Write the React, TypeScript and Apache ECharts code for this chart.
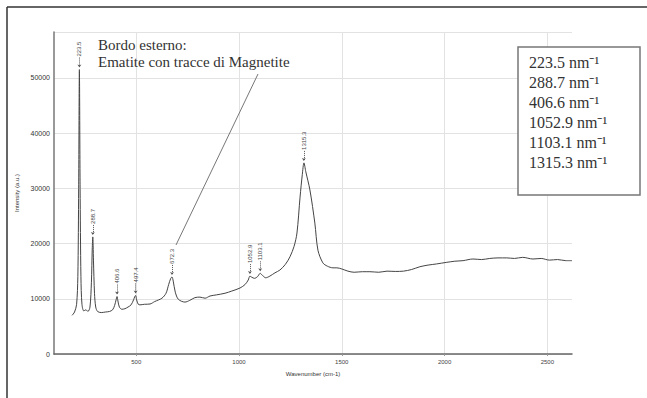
import React, { useEffect, useRef } from "react";
import * as echarts from "echarts";

const wavenumbers = [
  188, 200, 210, 216, 220, 223.5, 227, 231, 236, 245, 255, 265, 275, 282, 286, 288.7, 292, 297, 303, 312,
  330, 350, 370, 385, 395, 402, 406.6, 411, 418, 430, 445, 460, 475, 487, 493, 497, 502, 510, 518, 540,
  567, 590, 625, 645, 658, 668, 674, 680, 690, 705, 737, 760, 785, 810, 835, 859, 890, 932, 965, 1005,
  1030, 1045, 1053, 1062, 1075, 1090, 1103, 1115, 1130, 1150, 1175, 1199, 1225, 1248, 1268, 1282, 1297, 1308, 1316, 1325,
  1345, 1369, 1384, 1408, 1430, 1457, 1476, 1500, 1530, 1560, 1600, 1637, 1680, 1720, 1760, 1800, 1840, 1880, 1920, 1960,
  2011, 2050, 2090, 2138, 2180, 2220, 2260, 2303, 2340, 2380, 2430, 2470, 2510, 2550, 2590, 2620,
];
const intensities = [
  7000, 7600, 9000, 14000, 30000, 51500, 30000, 14000, 9000, 7800, 8000, 7700, 8500, 13000, 19000, 21200, 17000, 11000, 8500, 7700,
  7500, 7600, 7700, 8000, 8800, 9800, 10400, 9600, 8500, 8100, 8200, 8500, 8900, 9800, 10400, 10600, 9800, 9000, 8900, 9000,
  9050, 9500, 10100, 11000, 12600, 13700, 13950, 13200, 11200, 9900, 9400, 9700, 10200, 10300, 10100, 10500, 10700, 11000, 11400, 11950,
  12600, 13400, 14100, 13900, 13700, 14000, 14600, 14200, 13800, 14100, 14700, 15200, 16200, 17600, 19500, 21900, 28400, 32500, 34600, 33000,
  29700, 23700, 18800, 16500, 15900, 15600, 15600, 15400, 15000, 14800, 14900, 14900, 14800, 15000, 14950, 15000, 15300, 15800, 16100, 16300,
  16600, 16800, 16900, 17200, 17100, 17300, 17400, 17400, 17300, 17500, 17200, 17300, 17000, 17100, 16900, 16900,
];

const peakPositions = [223.5, 288.7, 406.6, 497, 674, 1052.9, 1103.1, 1315.3];
const peakHeights = [51500, 21200, 10400, 10600, 13950, 14100, 14600, 34600];
const peakLabels = ["223.5", "288.7", "406.6", "497.4", "672.3", "1052.9", "1103.1", "1315.3"];

const xTicks = [500, 1000, 1500, 2000, 2500];
const boxLines = ["223.5", "288.7", "406.6", "1052.9", "1103.1", "1315.3"];
const titleLines = ["Bordo esterno:", "Ematite con tracce di Magnetite"];

export default function App() {
  const ref = useRef<HTMLDivElement>(null);
  useEffect(() => {
    if (!ref.current) return;
    const chart = echarts.init(ref.current, undefined, { renderer: "svg" });
    const data = wavenumbers.map((w, i) => [w, intensities[i]]);
    const unit = 58300 / 322;
    const markLines = peakPositions.map((w, i) => [
      { coord: [w, peakHeights[i] + 12 * unit] },
      { coord: [w, peakHeights[i] + 2 * unit] },
    ]);
    const markPoints = peakPositions.map((w, i) => ({
      coord: [w, peakHeights[i] + 13 * unit],
      name: peakLabels[i],
    }));
    const serif = "Liberation Serif";
    chart.setOption({
      animation: false,
      grid: { left: 54, right: 75, top: 32, bottom: 44 },
      xAxis: {
        type: "value",
        min: 100,
        max: 2620,
        name: "Wavenumber (cm-1)",
        nameLocation: "middle",
        nameGap: 17,
        nameTextStyle: { fontSize: 6, color: "#333", fontFamily: "Liberation Sans" },
        axisLine: { lineStyle: { color: "#666", width: 1.5 } },
        axisTick: { show: true, customValues: xTicks, length: 2, lineStyle: { color: "#999" } },
        axisLabel: {
          customValues: xTicks,
          fontSize: 6,
          color: "#444",
          margin: 5,
          fontFamily: "Liberation Sans",
          formatter: (v: number) => String(v),
        },
        splitLine: { show: true, lineStyle: { color: "#e2e2e2", width: 1 } },
      },
      yAxis: {
        type: "value",
        min: 0,
        max: 58300,
        interval: 10000,
        name: "Intensity (a.u.)",
        nameLocation: "middle",
        nameGap: 29,
        nameRotate: 90,
        nameTextStyle: { fontSize: 6, color: "#333", fontFamily: "Liberation Sans" },
        axisLine: { show: true, lineStyle: { color: "#777", width: 1.5 } },
        axisTick: { show: false },
        axisLabel: {
          fontSize: 7,
          color: "#333",
          margin: 4,
          showMaxLabel: false,
          fontFamily: "Liberation Sans",
          formatter: (v: number) => String(v),
        },
        splitLine: { show: true, lineStyle: { color: "#e2e2e2", width: 1 } },
      },
      series: [
        {
          type: "line",
          data,
          showSymbol: false,
          smooth: 0.3,
          lineStyle: { color: "#444", width: 1 },
          markLine: {
            silent: true,
            symbol: ["none", "arrow"],
            symbolSize: 3,
            label: { show: false },
            lineStyle: { color: "#555", width: 1, type: "dotted" },
            data: markLines,
          },
          markPoint: {
            silent: true,
            symbol: "circle",
            symbolSize: 0,
            label: {
              show: true,
              formatter: (p: any) => p.name,
              position: [0, 0],
              rotate: 90,
              align: "left",
              verticalAlign: "middle",
              fontSize: 6,
              color: "#444",
              fontFamily: "Liberation Sans",
            },
            data: markPoints,
          },
        },
      ],
      graphic: [
        { type: "line", z: 100, shape: { x1: 7, y1: 7, x2: 647, y2: 7 }, style: { stroke: "#333", lineWidth: 1.5 } },
        { type: "line", z: 100, shape: { x1: 7, y1: 7, x2: 7, y2: 398 }, style: { stroke: "#333", lineWidth: 1.5 } },
        {
          type: "text",
          z: 100,
          left: 98,
          top: 36,
          style: { text: titleLines.join("\n"), fontSize: 15, lineHeight: 17, fill: "#333", fontFamily: serif },
        },
        { type: "line", z: 100, shape: { x1: 258, y1: 74, x2: 176, y2: 245 }, style: { stroke: "#777", lineWidth: 1 } },
        {
          type: "rect",
          z: 100,
          shape: { x: 518, y: 47, width: 122, height: 148 },
          style: { fill: "#fff", stroke: "#777", lineWidth: 1.5 },
        },
        {
          type: "text",
          z: 101,
          left: 529,
          top: 52,
          style: {
            text: boxLines.map((v) => `${v} nm⁻¹`).join("\n"),
            fontSize: 16,
            lineHeight: 20,
            fill: "#333",
            fontFamily: serif,
          },
        },
      ],
    });
    return () => chart.dispose();
  }, []);
  return (
    <div
      ref={ref}
      style={{ position: "fixed", left: 0, top: 0, width: 647, height: 398, background: "#fff" }}
    />
  );
}
